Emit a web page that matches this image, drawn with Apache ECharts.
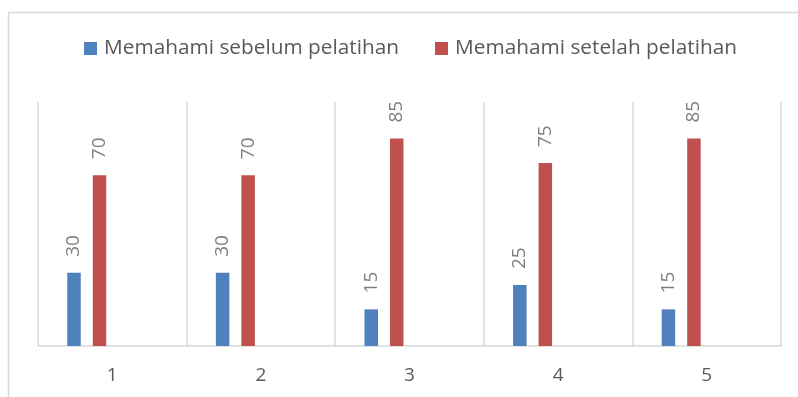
<!DOCTYPE html>
<html>
<head>
<meta charset="utf-8">
<script src="https://cdn.jsdelivr.net/npm/echarts@6/dist/echarts.min.js"></script>
<style>
  html, body { margin: 0; padding: 0; background: #fff; }
  #chart { width: 798px; height: 397px; }
</style>
</head>
<body>
<div id="chart"></div>
<script>
  // data
  const categories = ['1', '2', '3', '4', '5']
  const sebelum = [30, 30, 15, 25, 15]
  const setelah = [70, 70, 85, 75, 85]
  // two empty series in the original workbook keep the slots on the right
  const kosong3 = [null, null, null, null, null]
  const kosong4 = [null, null, null, null, null]
  const seriesNames = ['Memahami sebelum pelatihan', 'Memahami setelah pelatihan']

  const myChart = echarts.init(document.getElementById('chart'))

  const font = '"Open Sans", "Noto Sans", sans-serif'

  function barSeries(name, data, color) {
    return {
      name: name,
      type: 'bar',
      barWidth: 13.5,
      barGap: '89%',
      itemStyle: { color: color },
      label: {
        show: true,
        position: 'top',
        rotate: 90,
        align: 'left',
        verticalAlign: 'middle',
        distance: 16,
        color: '#7f7f7f',
        fontFamily: font,
        fontSize: 19
      },
      data: data
    }
  }

  myChart.setOption({
    animation: false,
    graphic: [{
      type: 'rect',
      shape: { x: 8.5, y: 12.5, width: 820, height: 420 },
      style: { fill: 'none', stroke: '#d9d9d9', lineWidth: 1.5 },
      silent: true
    }],
    legend: {
      data: seriesNames,
      top: 38,
      left: 84,
      padding: 0,
      itemWidth: 13,
      itemHeight: 13,
      itemGap: 36,
      icon: 'rect',
      textStyle: {
        color: '#595959',
        fontFamily: font,
        fontSize: 20.8,
        padding: [0, 0, 0, 2]
      }
    },
    grid: {
      top: 102,
      left: 38,
      right: 17,
      bottom: 51
    },
    xAxis: {
      type: 'category',
      data: categories,
      axisTick: { show: false },
      axisLine: { lineStyle: { color: '#d9d9d9', width: 1.5 } },
      axisLabel: {
        color: '#595959',
        fontFamily: font,
        fontSize: 19,
        margin: 20
      },
      splitLine: {
        show: true,
        lineStyle: { color: '#d9d9d9', width: 1.5 }
      }
    },
    yAxis: {
      type: 'value',
      min: 0,
      max: 100,
      show: false,
      splitLine: { show: false }
    },
    series: [
      barSeries(seriesNames[0], sebelum, '#4f81bd'),
      barSeries(seriesNames[1], setelah, '#c0504d'),
      barSeries('Series3', kosong3, '#9bbb59'),
      barSeries('Series4', kosong4, '#8064a2')
    ]
  })

  window.addEventListener('resize', () => {
    myChart && myChart.resize()
  })
</script>
</body>
</html>
